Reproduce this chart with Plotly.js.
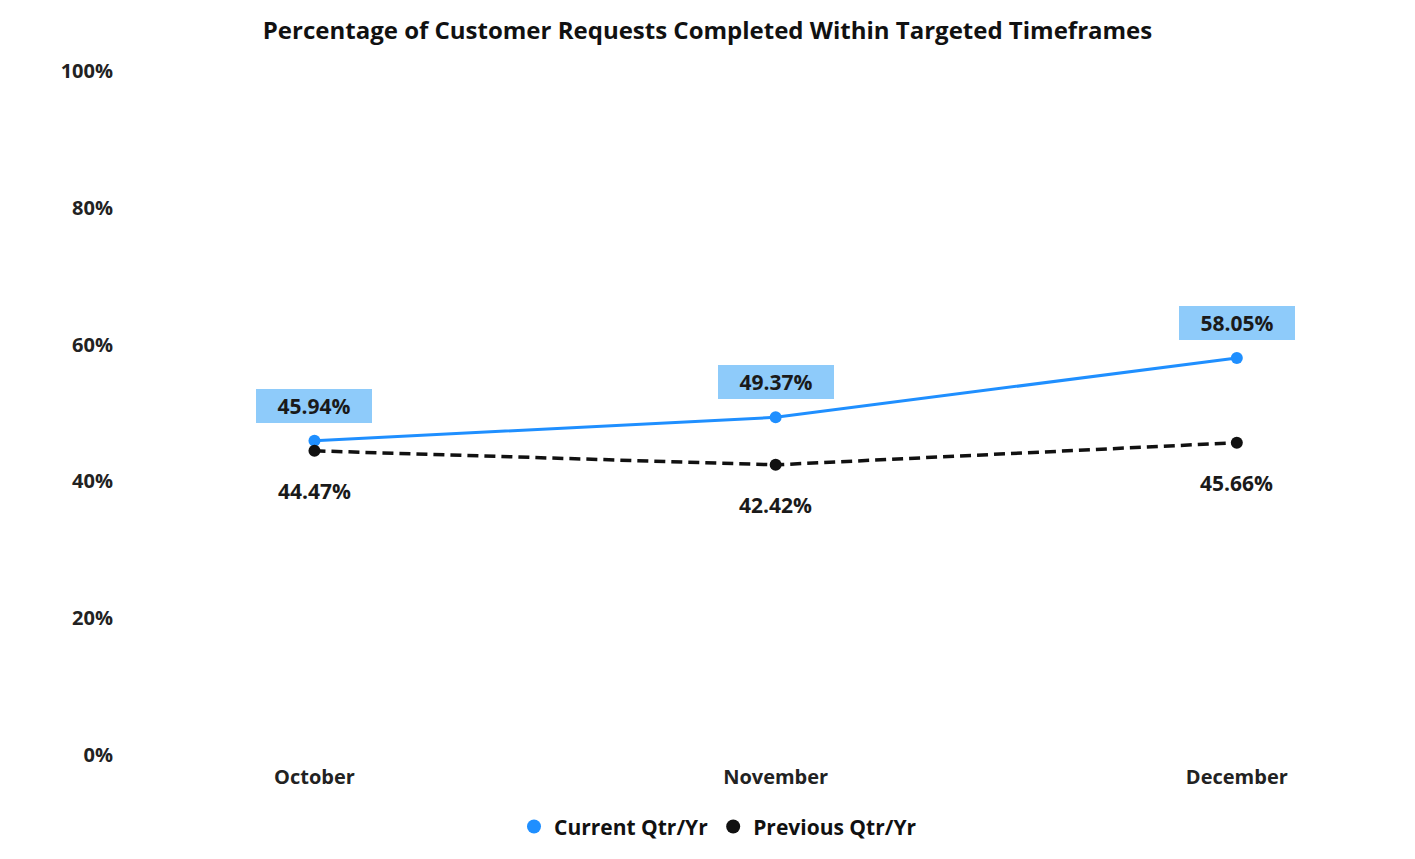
<!DOCTYPE html>
<html>
<head>
<meta charset="utf-8">
<script src="https://cdn.plot.ly/plotly-3.0.1.min.js"></script>
<style>html,body{margin:0;padding:0;background:#fff;}#chart{width:1415px;height:859px;}</style>
</head>
<body>
<div id="chart"></div>
<script>
const months = ["October", "November", "December"];
const currentValues = [45.94, 49.37, 58.05];
const previousValues = [44.47, 42.42, 45.66];
const yTickValues = [0, 20, 40, 60, 80, 100];
const yTickLabels = ["0%", "20%", "40%", "60%", "80%", "100%"];
const seriesNames = ["Current Qtr/Yr", "Previous Qtr/Yr"];

const blue = "#1f8fff";
const black = "#111111";
const fontFam = "'Open Sans', 'Noto Sans', sans-serif";

const traces = [
  {x: months, y: currentValues, type: "scatter", mode: "lines+markers",
   line: {color: blue, width: 3}, marker: {color: blue, size: 12},
   showlegend: false, hoverinfo: "skip"},
  {x: months, y: previousValues, type: "scatter", mode: "lines+markers",
   line: {color: black, width: 3.5, dash: "11px,6px"}, marker: {color: black, size: 12},
   showlegend: false, hoverinfo: "skip"},
  {x: [null], y: [null], type: "scatter", mode: "markers", name: seriesNames[0],
   marker: {color: blue, size: 14}},
  {x: [null], y: [null], type: "scatter", mode: "markers", name: seriesNames[1],
   marker: {color: black, size: 14}}
];

const annotations = [];
months.forEach((m, i) => {
  annotations.push({x: m, y: currentValues[i], xref: "x", yref: "y",
    text: currentValues[i].toFixed(2) + "%", showarrow: false, yshift: 35,
    bgcolor: "#8ecbfa", borderpad: 5, borderwidth: 0, width: 106, height: 24,
    font: {family: fontFam, size: 21, color: "#1a1a1a", weight: "bold"}});
  annotations.push({x: m, y: previousValues[i], xref: "x", yref: "y",
    text: previousValues[i].toFixed(2) + "%", showarrow: false, yshift: -40,
    font: {family: fontFam, size: 21, color: "#1a1a1a", weight: "bold"}});
});

const layout = {
  width: 1415, height: 859,
  paper_bgcolor: "#fff", plot_bgcolor: "#fff",
  margin: {l: 130, r: 109, t: 71, b: 101},
  title: {text: "Percentage of Customer Requests Completed Within Targeted Timeframes",
    x: 0.5, xanchor: "center", y: 0.964, yanchor: "middle",
    font: {family: fontFam, size: 24, color: "#111", weight: "bold"}},
  xaxis: {type: "category", range: [-0.4, 2.15], showgrid: false, zeroline: false,
    showline: false, ticks: "", ticklabelstandoff: 8,
    tickfont: {family: fontFam, size: 20, color: "#222", weight: "bold"}},
  yaxis: {range: [0, 100], tickvals: yTickValues, ticktext: yTickLabels,
    showgrid: false, zeroline: false, showline: false, ticks: "", ticklabelstandoff: 16,
    tickfont: {family: fontFam, size: 20, color: "#222", weight: "bold"}},
  legend: {orientation: "h", x: 0.5, xanchor: "center", y: -0.105, yanchor: "middle",
    font: {family: fontFam, size: 21, color: "#111", weight: "bold"},
    itemwidth: 30, tracegroupgap: 0},
  annotations: annotations,
  showlegend: true
};

Plotly.newPlot("chart", traces, layout, {displayModeBar: false, staticPlot: true});
</script>
</body>
</html>
